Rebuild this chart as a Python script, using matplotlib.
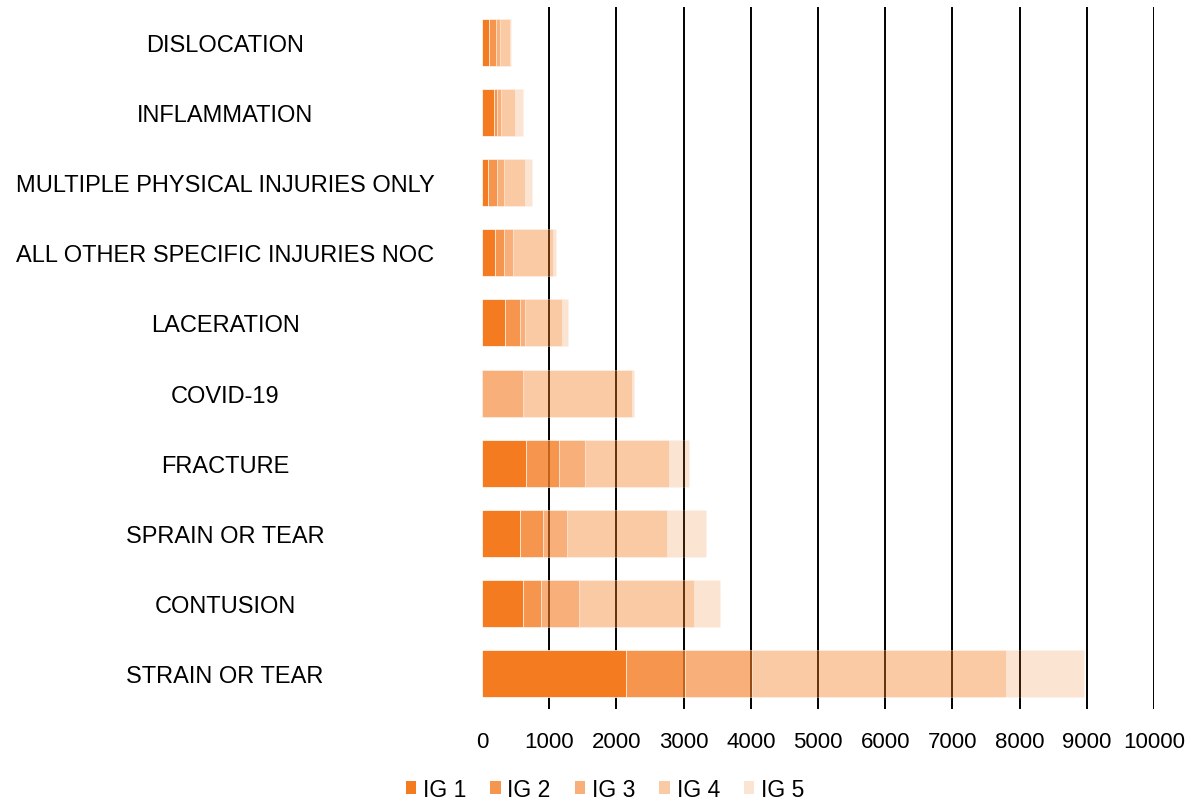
import matplotlib
matplotlib.use('Agg')
import matplotlib.pyplot as plt
from matplotlib.patches import Patch

plt.rcParams['font.family'] = ['Liberation Sans', 'DejaVu Sans']

categories = ['STRAIN OR TEAR', 'CONTUSION', 'SPRAIN OR TEAR', 'FRACTURE', 'COVID-19',
              'LACERATION', 'ALL OTHER SPECIFIC INJURIES NOC',
              'MULTIPLE PHYSICAL INJURIES ONLY', 'INFLAMMATION', 'DISLOCATION']
ig1 = [2140, 610, 565, 655, 0, 342, 193, 89, 179, 104]
ig2 = [880, 268, 342, 491, 0, 223, 134, 129, 40, 104]
ig3 = [1000, 565, 357, 387, 605, 74, 139, 104, 65, 60]
ig4 = [3780, 1711, 1488, 1250, 1630, 556, 595, 317, 208, 150]
ig5 = [1160, 387, 585, 293, 20, 79, 35, 109, 119, 15]
series = [('IG 1', ig1), ('IG 2', ig2), ('IG 3', ig3), ('IG 4', ig4), ('IG 5', ig5)]
alphas = [1.0, 0.8, 0.6, 0.4, 0.2]
base = '#F47B20'

fig = plt.figure(figsize=(11.91, 8.03), dpi=100)
ax = fig.add_axes([0.4047, 0.1158, 0.5643, 0.8742])

ys = list(range(len(categories)))
left = [0] * len(categories)
for (name, vals), a in zip(series, alphas):
    ax.barh(ys, vals, left=left, height=0.67, color=base, alpha=a,
            edgecolor='white', linewidth=0.5, zorder=2)
    left = [l + v for l, v in zip(left, vals)]

ax.set_xlim(0, 10000)
ax.set_ylim(-0.5, len(categories) - 0.5)
ax.set_xticks(range(0, 10001, 1000))
ax.set_yticks(ys)
ax.set_yticklabels(categories, ha='center')
ax.tick_params(axis='y', length=0, pad=185, labelsize=17)
ax.tick_params(axis='x', length=0, pad=16, labelsize=16)
for s in ax.spines.values():
    s.set_visible(False)
ax.xaxis.grid(True, color='black', linewidth=1.4, zorder=1)
ax.set_axisbelow(True)
ax.get_xgridlines()[0].set_visible(False)

handles = [Patch(facecolor=base, alpha=a, label=name) for (name, _), a in zip(series, alphas)]
fig.legend(handles=handles, loc='center', bbox_to_anchor=(0.508, 0.016), ncol=5,
           frameon=False, fontsize=16.5, handlelength=0.45, handleheight=0.45,
           handletextpad=0.3, columnspacing=1.05)

fig.savefig('out.png', dpi=100)
